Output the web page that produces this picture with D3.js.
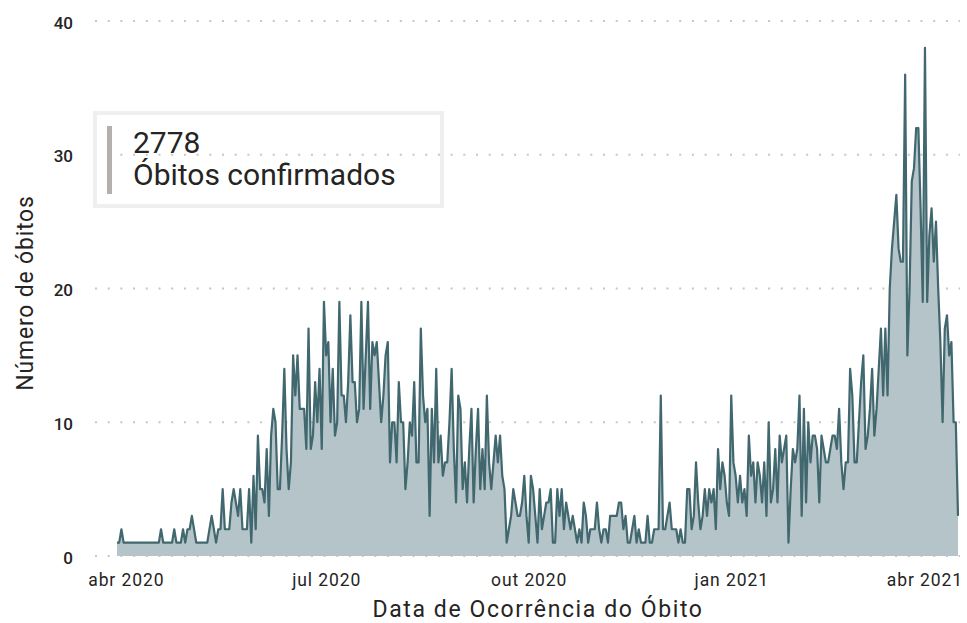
<!DOCTYPE html>
<html>
<head>
<meta charset="utf-8">
<script src="https://cdn.jsdelivr.net/npm/d3@7"></script>
<style>
  body { margin: 0; background: #fff; }
  svg { display: block; font-family: Roboto, "Noto Sans", sans-serif; }
</style>
</head>
<body>
<svg id="chart" width="967" height="623"></svg>
<script>
// óbitos por dia, a partir de 28/03/2020
const startDate = new Date(Date.UTC(2020, 2, 28));
const mar2020 = [1, 1, 2, 1];
const abr2020 = [1, 1, 1, 1, 1, 1, 1, 1, 1, 1, 1, 1, 1, 1, 1, 1, 2, 1, 1, 1, 1, 1, 2, 1, 1, 1, 2, 1, 2, 2];
const mai2020 = [3, 2, 1, 1, 1, 1, 1, 1, 2, 3, 2, 1, 2, 2, 5, 2, 2, 2, 4, 5, 4, 3, 5, 2, 2, 2, 5, 1, 6, 2, 9];
const jun2020 = [5, 5, 4, 8, 3, 9, 11, 10, 5, 5, 9, 14, 8, 5, 7, 15, 12, 15, 11, 11, 11, 8, 17, 8, 9, 13, 10, 14, 8, 19];
const jul2020 = [15, 16, 10, 14, 9, 10, 19, 12, 12, 10, 13, 18, 13, 13, 10, 11, 19, 11, 15, 19, 11, 16, 15, 16, 13, 10, 12, 15, 16, 7, 10];
const ago2020 = [10, 7, 13, 10, 10, 5, 7, 10, 9, 13, 7, 7, 17, 12, 10, 11, 3, 11, 7, 14, 7, 9, 6, 7, 7, 10, 14, 8, 4, 12, 11];
const set2020 = [5, 7, 4, 8, 11, 4, 8, 11, 5, 8, 5, 12, 7, 5, 7, 9, 7, 9, 6, 5, 1, 2, 3, 5, 4, 3, 3, 4, 6, 3];
const out2020 = [1, 6, 5, 3, 1, 5, 2, 3, 4, 4, 5, 1, 1, 5, 3, 5, 2, 4, 3, 2, 3, 2, 1, 2, 1, 4, 3, 1, 2, 2, 2];
const nov2020 = [4, 2, 1, 2, 2, 1, 3, 3, 3, 3, 4, 4, 2, 3, 1, 1, 2, 3, 1, 2, 1, 1, 1, 3, 1, 1, 2, 2, 2, 12];
const dez2020 = [2, 2, 3, 4, 2, 2, 2, 1, 2, 1, 1, 5, 5, 2, 3, 7, 4, 2, 3, 5, 3, 5, 4, 5, 2, 8, 5, 7, 6, 4, 3];
const jan2021 = [12, 7, 6, 4, 6, 4, 5, 3, 9, 6, 7, 4, 7, 6, 4, 7, 3, 10, 4, 5, 8, 4, 9, 7, 8, 9, 1, 5, 8, 7, 8];
const fev2021 = [12, 3, 11, 4, 10, 7, 9, 9, 8, 4, 9, 8, 7, 7, 8, 9, 9, 8, 11, 7, 5, 7, 7, 14, 12, 7, 7, 10];
const mar2021 = [13, 15, 8, 9, 11, 14, 9, 11, 14, 17, 12, 17, 12, 20, 23, 25, 27, 23, 22, 22, 36, 15, 20, 28, 29, 32, 32, 26, 19, 38, 19];
const abr2021 = [24, 26, 22, 25, 20, 16, 10, 17, 18, 15, 16, 10, 10, 3];

const tickDates = ["2020-04-01", "2020-07-01", "2020-10-01", "2021-01-01", "2021-04-01"];
const tickLabels = ["abr 2020", "jul 2020", "out 2020", "jan 2021", "abr 2021"];
const yTicks = [0, 10, 20, 30, 40];
const cardValue = "2778";
const cardLabel = "Óbitos confirmados";

const values = [].concat(mar2020, abr2020, mai2020, jun2020, jul2020, ago2020, set2020,
    out2020, nov2020, dez2020, jan2021, fev2021, mar2021, abr2021);
const data = values.map((v, i) => ({ date: d3.utcDay.offset(startDate, i), value: v }));

const svg = d3.select("#chart");
const lineColor = "#41676f";
const areaColor = "#b5c4c9";
const textColor = "#252423";

const x = d3.scaleUtc()
    .domain(d3.extent(data, (d) => d.date))
    .range([117, 958]);

const y = d3.scaleLinear()
    .domain([0, 40])
    .range([556, 21]);

// grade pontilhada
svg.append("g")
    .selectAll("line")
    .data(yTicks)
    .join("line")
    .attr("x1", 95)
    .attr("x2", 960)
    .attr("y1", (d) => y(d))
    .attr("y2", (d) => y(d))
    .attr("stroke", "#c8c6c4")
    .attr("stroke-width", 2)
    .attr("stroke-dasharray", "2,10.7");

const area = d3.area()
    .x((d) => x(d.date))
    .y0(y(0))
    .y1((d) => y(d.value));

const line = d3.line()
    .x((d) => x(d.date))
    .y((d) => y(d.value));

svg.append("path")
    .datum(data)
    .attr("d", area)
    .attr("fill", areaColor);

svg.append("path")
    .datum(data)
    .attr("d", line)
    .attr("fill", "none")
    .attr("stroke", lineColor)
    .attr("stroke-width", 2.2)
    .attr("stroke-linejoin", "round");

// eixo y
const yAxis = svg.append("g")
    .attr("transform", "translate(73,0)")
    .call(d3.axisLeft(y).tickValues(yTicks).tickSize(0).tickPadding(0));
yAxis.select(".domain").remove();
yAxis.selectAll("text")
    .attr("font-family", "Roboto")
    .attr("font-size", 17)
    .attr("font-weight", 500)
    .attr("fill", textColor)
    .attr("dy", "0.42em");

// eixo x
const xAxis = svg.append("g")
    .attr("transform", `translate(0,${y(0)})`)
    .call(d3.axisBottom(x)
        .tickValues(tickDates.map((d) => new Date(d + "T00:00:00Z")))
        .tickFormat((d, i) => tickLabels[i])
        .tickSize(0));
xAxis.select(".domain").remove();
xAxis.selectAll("text")
    .attr("font-family", "Roboto")
    .attr("font-size", 17.5)
    .attr("letter-spacing", "0.9px")
    .attr("fill", textColor)
    .attr("y", 30)
    .attr("dy", 0)
    .each(function () {
        const b = this.getBBox();
        const tx = +this.parentNode.getAttribute("transform").match(/translate\(([^,]+)/)[1];
        if (tx + b.x + b.width > 963) d3.select(this).attr("x", 963 - (tx + b.x + b.width));
    });

// títulos
svg.append("text")
    .attr("x", 538)
    .attr("y", 617)
    .attr("text-anchor", "middle")
    .attr("font-size", 23)
    .attr("letter-spacing", "1.6px")
    .attr("fill", textColor)
    .text("Data de Ocorrência do Óbito");

svg.append("text")
    .attr("transform", "translate(33,293) rotate(-90)")
    .attr("text-anchor", "middle")
    .attr("font-size", 23)
    .attr("letter-spacing", "0.8px")
    .attr("fill", textColor)
    .text("Número de óbitos");

// cartão
const card = svg.append("g");
card.append("rect")
    .attr("x", 95)
    .attr("y", 113)
    .attr("width", 347)
    .attr("height", 93)
    .attr("fill", "none")
    .attr("stroke", "#efefef")
    .attr("stroke-width", 4);
card.append("rect")
    .attr("x", 107)
    .attr("y", 126)
    .attr("width", 5)
    .attr("height", 68)
    .attr("fill", "#b3b0ad");
card.append("text")
    .attr("x", 133)
    .attr("y", 153)
    .attr("font-size", 30)
    .attr("fill", textColor)
    .text(cardValue);
card.append("text")
    .attr("x", 133)
    .attr("y", 185)
    .attr("font-size", 30)
    .attr("fill", textColor)
    .text(cardLabel);
</script>
</body>
</html>
